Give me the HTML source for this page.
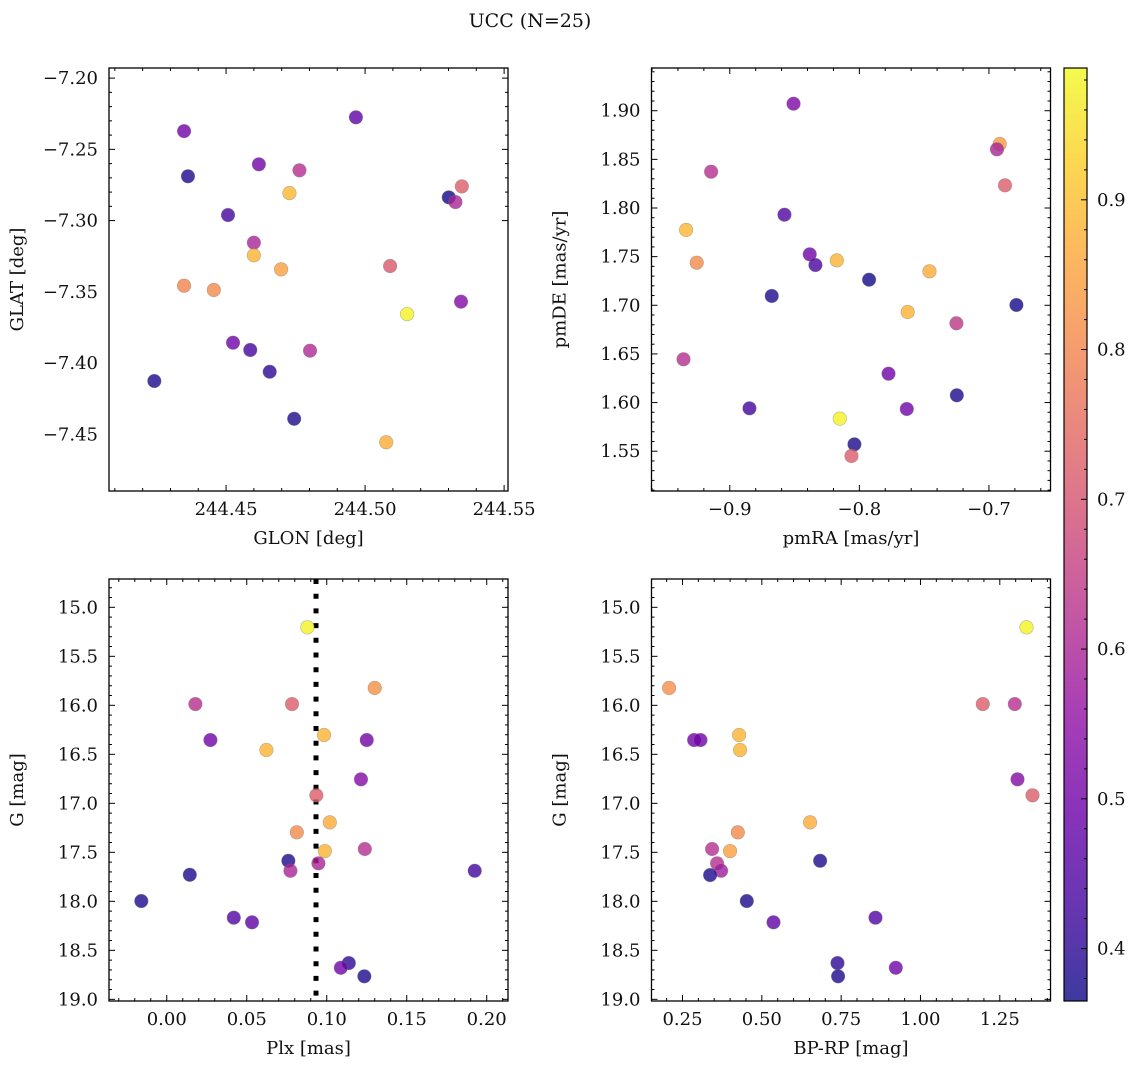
<!DOCTYPE html>
<html><head><meta charset="utf-8"><style>
html,body{margin:0;padding:0;background:#fff;}
svg text{font-family:"DejaVu Serif","Liberation Serif",serif;fill:#111;}
</style></head><body>
<svg id="fig" width="1136" height="1068" xmlns="http://www.w3.org/2000/svg">
<text x="530" y="27" font-size="19" text-anchor="middle">UCC (N=25)</text>
</svg>
<script>
const glon=[244.4349,244.4967,244.4363,244.4618,244.4764,244.4728,244.5301,244.5348,244.5325,244.4507,244.4600,244.4600,244.4698,244.5090,244.4349,244.4456,244.5345,244.5151,244.4525,244.4587,244.4802,244.4657,244.4242,244.4745,244.5076];
const glat=[-7.2372,-7.2275,-7.2689,-7.2605,-7.2647,-7.2807,-7.2837,-7.2760,-7.2870,-7.2961,-7.3155,-7.3244,-7.3342,-7.3319,-7.3457,-7.3487,-7.3569,-7.3656,-7.3857,-7.3908,-7.3913,-7.4061,-7.4126,-7.4391,-7.4556];
const cTL=[0.50,0.47,0.38,0.50,0.62,0.89,0.37,0.72,0.60,0.43,0.60,0.88,0.85,0.71,0.80,0.81,0.53,0.98,0.50,0.43,0.61,0.40,0.38,0.38,0.87];
const pmra=[-0.8508,-0.6917,-0.6938,-0.9144,-0.6876,-0.8578,-0.9337,-0.9255,-0.8383,-0.8339,-0.8174,-0.7925,-0.7459,-0.8676,-0.6788,-0.7627,-0.7251,-0.9357,-0.7775,-0.7248,-0.8848,-0.7634,-0.8151,-0.8038,-0.8061];
const pmde=[1.9072,1.8658,1.8603,1.8373,1.8233,1.7931,1.7774,1.7438,1.7524,1.7414,1.7462,1.7263,1.7349,1.7096,1.7003,1.6931,1.6815,1.6445,1.6297,1.6075,1.5941,1.5934,1.5835,1.5571,1.5451];
const cTR=[0.52,0.84,0.60,0.62,0.72,0.45,0.89,0.81,0.50,0.44,0.88,0.37,0.87,0.38,0.37,0.88,0.64,0.62,0.50,0.38,0.43,0.50,0.98,0.38,0.72];
const plx=[0.0879,0.1300,0.0179,0.0783,0.0983,0.0273,0.1250,0.0623,0.1214,0.0935,0.1019,0.0813,0.0988,0.1238,0.0760,0.0948,0.0773,0.1925,0.0144,-0.0159,0.0419,0.0533,0.1138,0.1088,0.1235];
const gBL=[15.204,15.823,15.987,15.987,16.303,16.354,16.354,16.456,16.755,16.918,17.194,17.296,17.487,17.466,17.586,17.612,17.688,17.688,17.729,17.997,18.167,18.214,18.630,18.678,18.765];
const cBL=[0.98,0.82,0.62,0.72,0.88,0.50,0.50,0.88,0.53,0.72,0.87,0.81,0.88,0.62,0.38,0.60,0.60,0.43,0.38,0.38,0.45,0.47,0.40,0.50,0.38];
const bprp=[1.3341,0.2078,1.1964,1.2973,0.4284,0.2866,0.3067,0.4315,1.3058,1.3531,0.6521,0.4243,0.4000,0.3433,0.6837,0.3590,0.3717,0.3370,0.4526,0.5368,0.8582,0.7385,0.9222,0.7404];
const gBR=[15.204,15.823,15.987,15.987,16.303,16.354,16.354,16.456,16.755,16.918,17.194,17.296,17.487,17.466,17.586,17.612,17.688,17.732,17.997,18.214,18.167,18.630,18.678,18.765];
const cBR=[0.98,0.82,0.72,0.62,0.88,0.50,0.50,0.88,0.53,0.72,0.87,0.81,0.85,0.62,0.38,0.62,0.58,0.38,0.38,0.47,0.45,0.40,0.50,0.38];
const plxRef=[0.0933];
const tlXTicks=[244.45,244.50,244.55];
const tlYTicks=[-7.20,-7.25,-7.30,-7.35,-7.40,-7.45];
const trXTicks=[-0.9,-0.8,-0.7];
const trYTicks=[1.55,1.60,1.65,1.70,1.75,1.80,1.85,1.90];
const blXTicks=[0.00,0.05,0.10,0.15,0.20];
const gTicks=[15.0,15.5,16.0,16.5,17.0,17.5,18.0,18.5,19.0];
const brXTicks=[0.25,0.50,0.75,1.00,1.25];
const cbTicks=[0.4,0.5,0.6,0.7,0.8,0.9];
const cMin=0.365,cMax=0.988;

const NS="http://www.w3.org/2000/svg";
const svg=document.getElementById('fig');
function mk(tag,attrs,parent){const e=document.createElementNS(NS,tag);for(const k in attrs)e.setAttribute(k,attrs[k]);(parent||svg).appendChild(e);return e;}
const plasma=[[13,8,135],[65,4,157],[106,0,168],[143,13,164],[177,42,144],[204,71,120],[225,100,98],[242,132,75],[252,166,54],[252,206,37],[240,249,33]];
function cmap(v){let t=(v-cMin)/(cMax-cMin);t=Math.max(0,Math.min(1,t))*10;const i=Math.min(9,Math.floor(t)),f=t-i;const a=plasma[i],b=plasma[i+1];return `rgb(${Math.round(a[0]+(b[0]-a[0])*f)},${Math.round(a[1]+(b[1]-a[1])*f)},${Math.round(a[2]+(b[2]-a[2])*f)})`;}
function fmt(v,d){return (v<0?'\u2212':'')+Math.abs(v).toFixed(d);}
const FS=18;
function panel(p){
  const sx=v=>p.x0+(v-p.xd[0])/(p.xd[1]-p.xd[0])*(p.x1-p.x0);
  const sy=v=>p.inv? p.y0+(v-p.yd[0])/(p.yd[1]-p.yd[0])*(p.y1-p.y0) : p.y1-(v-p.yd[0])/(p.yd[1]-p.yd[0])*(p.y1-p.y0);
  const g=mk('g',{});
  
  
  const tg=mk('g',{stroke:'#000','stroke-width':1},g);
  function xt(v,len){const x=sx(v);if(x<p.x0-0.5||x>p.x1+0.5)return;mk('line',{x1:x,x2:x,y1:p.y1,y2:p.y1-len},tg);mk('line',{x1:x,x2:x,y1:p.y0,y2:p.y0+len},tg);}
  function yt(v,len){const y=sy(v);if(y<p.y0-0.5||y>p.y1+0.5)return;mk('line',{x1:p.x0,x2:p.x0+len,y1:y,y2:y},tg);mk('line',{x1:p.x1,x2:p.x1-len,y1:y,y2:y},tg);}
  const xs=p.xt[1]-p.xt[0],ys=Math.abs(p.yt[1]-p.yt[0]);
  for(let k=-10;k<(p.xt.length+10)*5;k++){const v=p.xt[0]+k*xs/5;xt(v,k%5===0?6:3);}
  for(let k=-10;k<(p.yt.length+10)*5;k++){const v=p.yt[0]+k*ys/5;yt(v,k%5===0?6:3);}
  p.xt.forEach(v=>{const t=mk('text',{x:sx(v),y:p.y1+24,'font-size':FS,'text-anchor':'middle'},g);t.textContent=fmt(v,p.xdp);});
  p.yt.forEach(v=>{const y=sy(v);if(y<p.y0-1||y>p.y1+1)return;const t=mk('text',{x:p.x0-11,y:y+6,'font-size':FS,'text-anchor':'end'},g);t.textContent=fmt(v,p.ydp);});
  const xl=mk('text',{x:(p.x0+p.x1)/2,y:p.y1+53,'font-size':FS,'text-anchor':'middle'},g);xl.textContent=p.xl;
  
  const yx=p.x0-86,yy=(p.y0+p.y1)/2;
  const yl=mk('text',{x:yx,y:yy,'font-size':FS,'text-anchor':'middle',transform:`rotate(-90 ${yx} ${yy})`},g);yl.textContent=p.yl;
  
  if(p.vline!==undefined){const x=sx(p.vline);const l=mk('line',{x1:x,x2:x,y1:p.y0,y2:p.y1,stroke:'#000','stroke-width':5,'stroke-dasharray':'5 9.7'},g);}
  for(let i=0;i<p.xs.length;i++){
    const c=mk('circle',{cx:sx(p.xs[i]),cy:sy(p.ys[i]),r:6.8,fill:cmap(p.cs[i]),'fill-opacity':0.8,stroke:'#777','stroke-opacity':0.5,'stroke-width':0.6},g);
    
    
  }
  const fr=mk('rect',{x:p.x0,y:p.y0,width:p.x1-p.x0,height:p.y1-p.y0,fill:'none',stroke:'#000','stroke-width':1.3},g);
  
}
panel({name:'glon-glat-panel',x0:109,x1:508,y0:68,y1:491,xd:[244.4079,244.5514],yd:[-7.4898,-7.1929],xt:tlXTicks,yt:tlYTicks,xdp:2,ydp:2,xl:'GLON [deg]',yl:'GLAT [deg]',xs:glon,ys:glat,cs:cTL});
panel({name:'pm-panel',x0:651.5,x1:1050.5,y0:68,y1:491,xd:[-0.9604,-0.6525],yd:[1.5091,1.9439],xt:trXTicks,yt:trYTicks,xdp:1,ydp:2,xl:'pmRA [mas/yr]',yl:'pmDE [mas/yr]',xs:pmra,ys:pmde,cs:cTR});
panel({name:'plx-g-panel',x0:109,x1:508,y0:579,y1:1001,xd:[-0.0361,0.2133],yd:[14.711,19.017],inv:true,xt:blXTicks,yt:gTicks,xdp:2,ydp:1,xl:'Plx [mas]',yl:'G [mag]',xs:plx,ys:gBL,cs:cBL,vline:plxRef[0]});
panel({name:'cmd-panel',x0:651.5,x1:1050.5,y0:579,y1:1001,xd:[0.1523,1.4098],yd:[14.711,19.017],inv:true,xt:brXTicks,yt:gTicks,xdp:2,ydp:1,xl:'BP-RP [mag]',yl:'G [mag]',xs:bprp,ys:gBR,cs:cBR});

const cbx=1064,cbw=23,cby0=68,cby1=1001;
const defs=mk('defs',{});
const lg=mk('linearGradient',{id:'cbg',x1:0,y1:1,x2:0,y2:0},defs);
plasma.forEach((c,i)=>mk('stop',{offset:i/10,'stop-color':`rgb(${c})`,'stop-opacity':0.8},lg));
const cb=mk('rect',{x:cbx,y:cby0,width:cbw,height:cby1-cby0,fill:'url(#cbg)',stroke:'#000','stroke-width':1.2});


const cy=v=>cby1-(v-cMin)/(cMax-cMin)*(cby1-cby0);
for(let v=0.38;v<cMax;v+=0.02){const y=cy(v);const major=Math.abs(v*10-Math.round(v*10))<0.01;mk('line',{x1:cbx+cbw,x2:cbx+cbw-(major?6:3),y1:y,y2:y,stroke:'#000','stroke-width':1});}
cbTicks.forEach(v=>{const t=mk('text',{x:cbx+cbw+10,y:cy(v)+6,'font-size':FS});t.textContent=v.toFixed(1);});
</script>
</body></html>
